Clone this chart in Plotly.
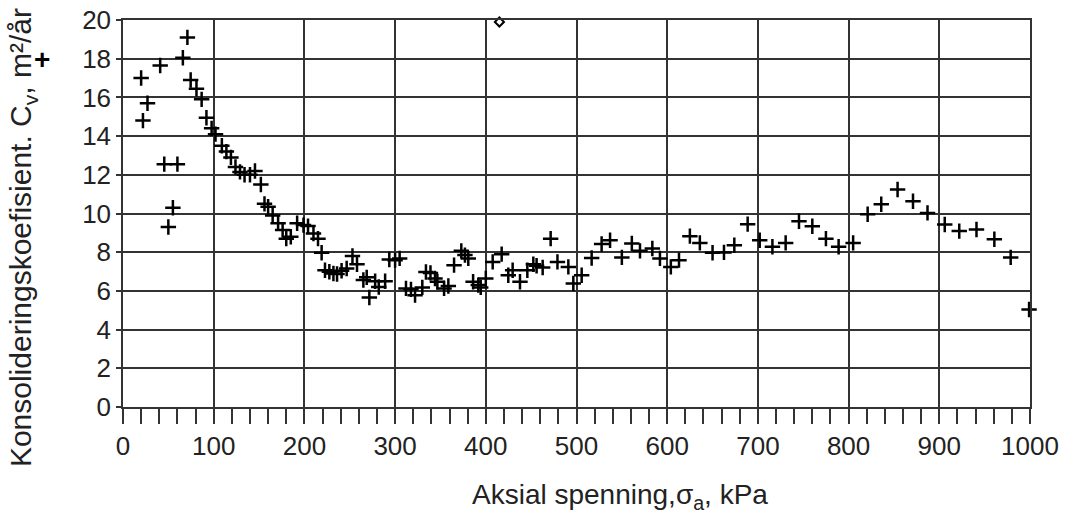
import plotly.graph_objects as go

sigma_a = [20, 22, 27, 41, 45.5, 50, 55, 60, 66, 71, 74.6, 81, 86.7, 92, 97.7, 102, 109, 114, 119,
           124, 129, 134, 140, 145.5, 152, 156, 160, 165, 171, 176, 180, 185, 192, 199, 204, 210,
           215, 219, 222.7, 227.5, 232, 236, 241, 246.6, 253, 258, 265, 268.7, 271.6, 278, 282,
           289, 293.6, 300, 305, 312, 317.5, 322, 330, 334, 339, 344, 346.6, 354, 358.7, 365,
           373, 377, 380.7, 386, 391.7, 394.4, 400, 407.6, 417.5, 424.8, 429.6, 437.7, 445.8,
           452.4, 456, 462.7, 471.5, 479, 491, 496.5, 505.7, 516.7, 527.7, 537, 550, 561, 570,
           583.6, 592, 604, 613, 625, 636, 650, 662.6, 674, 688.7, 702, 716, 730.6, 745.3, 760,
           775, 789, 805, 821, 836, 854, 871, 887, 906, 922, 941, 960.7, 978.7, 999]
cv = [17.0, 14.8, 15.7, 17.65, 12.55, 9.3, 10.3, 12.55, 18.05, 19.1, 16.9, 16.45, 15.9, 14.95,
      14.4, 14.1, 13.5, 13.2, 12.9, 12.4, 12.15, 12.0, 12.0, 12.2, 11.5, 10.5, 10.35, 9.9, 9.5,
      9.15, 8.7, 8.8, 9.5, 9.4, 9.35, 8.97, 8.7, 7.97, 7.07, 6.99, 6.9, 6.87, 7.04, 7.16, 7.8,
      7.38, 6.56, 6.7, 5.66, 6.5, 6.2, 6.5, 7.62, 7.59, 7.68, 6.13, 6.08, 5.78, 6.18, 6.98, 6.93,
      6.64, 6.47, 6.13, 6.25, 7.33, 8.07, 7.85, 7.68, 6.47, 6.3, 6.18, 6.64, 7.5, 7.9, 6.81,
      7.07, 6.47, 7.07, 7.38, 7.3, 7.21, 8.7, 7.5, 7.24, 6.38, 6.81, 7.7, 8.42, 8.62, 7.73,
      8.45, 8.07, 8.19, 7.68, 7.24, 7.59, 8.83, 8.48, 7.97, 7.99, 8.36, 9.45, 8.62, 8.28, 8.48,
      9.6, 9.34, 8.7, 8.28, 8.48, 9.96, 10.48, 11.24, 10.63, 10.03, 9.43, 9.09, 9.17, 8.67,
      7.73, 5.04]
outlier_x = [415]
outlier_y = [19.9]

x_ticks = list(range(0, 1001, 100))
y_ticks = list(range(0, 21, 2))

x_title = "Aksial spenning,σ<sub>a</sub>, kPa"
y_title = "Konsolideringskoefisient. C<sub>v</sub>, m²/år"

font = "Liberation Sans, Arial, sans-serif"
FS = 26

fig = go.Figure()
fig.add_trace(go.Scatter(
    x=sigma_a, y=cv, mode="markers",
    marker=dict(symbol="cross-thin", size=11, color="black",
                line=dict(color="black", width=2.5)),
    cliponaxis=False, showlegend=False))
fig.add_trace(go.Scatter(
    x=outlier_x, y=outlier_y, mode="markers",
    marker=dict(symbol="diamond-open", size=7, color="black",
                line=dict(color="black", width=2)),
    cliponaxis=False, showlegend=False))

fig.update_layout(
    width=1069, height=515,
    margin=dict(l=123, r=39, t=20, b=108),
    paper_bgcolor="white", plot_bgcolor="white",
    font=dict(family=font, size=FS, color="#222"),
    xaxis=dict(
        range=[0, 1000], tickvals=x_ticks, ticktext=[str(v) for v in x_ticks],
        showgrid=True, gridcolor="#333", gridwidth=1.5,
        showline=True, linecolor="#333", linewidth=1.5, mirror=True,
        ticks="outside", ticklen=15, tickwidth=1.5, tickcolor="#333",
        minor=dict(dtick=20, ticks="outside", ticklen=15, tickwidth=1.5,
                   tickcolor="#333", showgrid=False),
        zeroline=False, automargin=False,
        tickfont=dict(size=FS)),
    yaxis=dict(
        range=[0, 20], tickvals=y_ticks, ticktext=[str(v) for v in y_ticks],
        showgrid=True, gridcolor="#333", gridwidth=1.5,
        showline=True, linecolor="#333", linewidth=1.5, mirror=True,
        ticks="outside", ticklen=5, tickwidth=1.5, tickcolor="#333",
        zeroline=False, automargin=False,
        tickfont=dict(size=FS)),
)
# axis titles (placed as in the reference)
fig.add_annotation(xref="paper", yref="paper", x=0.548, y=-0.232, text=x_title,
                   xanchor="center", yanchor="middle", showarrow=False,
                   font=dict(size=28, color="#222", family=font))
fig.add_annotation(xref="paper", yref="paper", x=-0.110, y=0.437, text=y_title,
                   textangle=-90, xanchor="center", yanchor="middle", showarrow=False,
                   font=dict(size=30, color="#222", family=font))
fig.add_annotation(xref="paper", yref="paper", x=-0.089, y=0.897, text="<b>+</b>",
                   xanchor="center", yanchor="middle",
                   showarrow=False, font=dict(size=28, color="black", family=font))

fig.write_html("out.html", config={"displayModeBar": False},
               post_script="document.body.style.margin='0';")
